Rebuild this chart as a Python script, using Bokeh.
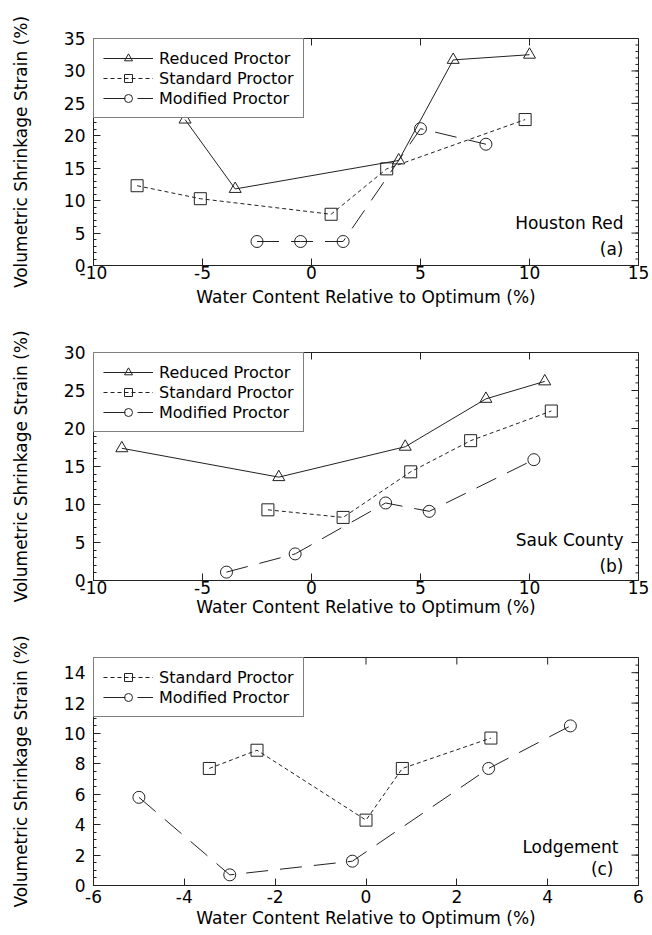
from bokeh.plotting import figure
from bokeh.layouts import column
from bokeh.models import Label, FixedTicker
from bokeh.embed import file_html
from bokeh.resources import INLINE

# ---------------- data ----------------
# (a) Houston Red
a_red_x = [-5.8, -3.5, 4.0, 6.5, 10.0]
a_red_y = [22.5, 11.8, 16.2, 31.7, 32.5]
a_std_x = [-8.0, -5.1, 0.9, 3.45, 9.8]
a_std_y = [12.3, 10.3, 7.9, 14.9, 22.5]
a_mod_x = [-2.5, -0.5, 1.45, 5.0, 8.0]
a_mod_y = [3.7, 3.7, 3.7, 21.1, 18.7]

# (b) Sauk County
b_red_x = [-8.7, -1.5, 4.3, 8.0, 10.7]
b_red_y = [17.4, 13.6, 17.6, 23.9, 26.2]
b_std_x = [-2.0, 1.45, 4.55, 7.3, 11.0]
b_std_y = [9.3, 8.3, 14.3, 18.4, 22.3]
b_mod_x = [-3.9, -0.75, 3.4, 5.4, 10.2]
b_mod_y = [1.1, 3.5, 10.2, 9.1, 15.9]

# (c) Lodgement
c_std_x = [-3.45, -2.4, 0.0, 0.8, 2.75]
c_std_y = [7.7, 8.9, 4.3, 7.7, 9.7]
c_mod_x = [-5.0, -3.0, -0.3, 2.7, 4.5]
c_mod_y = [5.8, 0.7, 1.6, 7.7, 10.5]

x_ticks_ab = [-10, -5, 0, 5, 10, 15]
x_ticks_c = [-6, -4, -2, 0, 2, 4, 6]
y_ticks_a = [0, 5, 10, 15, 20, 25, 30, 35]
y_ticks_b = [0, 5, 10, 15, 20, 25, 30]
y_ticks_c = [0, 2, 4, 6, 8, 10, 12, 14]

X_TITLE = "Water Content Relative to Optimum (%)"
Y_TITLE = "Volumetric Shrinkage Strain (%)"

FONT = "DejaVu Sans"
INK = "#222222"
FIG_W = 652
BL, BR = 93, 14
FRAME_W = FIG_W - BL - BR
MAJ, MIN = 7, 3


def minor_list(ticks, step, lo, hi):
    if step is None:
        return []
    n = int(round((hi - lo) / step))
    return [lo + i * step for i in range(n + 1)]


def style_axis(ax, ticks, minors):
    ax.ticker = FixedTicker(ticks=ticks, minor_ticks=minors)
    ax.major_label_overrides = {t: str(t) for t in ticks}
    ax.major_tick_in = MAJ
    ax.major_tick_out = 0
    ax.minor_tick_in = MIN
    ax.minor_tick_out = 0
    ax.axis_line_color = INK
    ax.major_tick_line_color = INK
    ax.minor_tick_line_color = INK
    ax.major_label_text_font = FONT
    ax.major_label_text_color = "black"
    ax.major_label_text_font_size = "17px"
    ax.axis_label_text_font = FONT
    ax.axis_label_text_font_style = "normal"
    ax.axis_label_text_color = "black"
    ax.axis_label_text_font_size = "17px"


def make_panel(height, top, bottom, xr, yr, xt, yt, y_minor, series, name, tag,
               x_std, x_lab):
    frame_h = height - top - bottom
    p = figure(width=FIG_W, height=height, x_range=xr, y_range=yr,
               output_backend="svg", toolbar_location=None,
               min_border_left=BL, min_border_right=BR,
               min_border_top=top, min_border_bottom=bottom)
    p.grid.visible = False
    p.outline_line_color = INK
    p.background_fill_color = "white"
    p.border_fill_color = "white"

    yminors = minor_list(yt, y_minor, yr[0], yr[1])
    style_axis(p.xaxis[0], xt, [])
    style_axis(p.yaxis[0], yt, yminors)
    p.xaxis[0].axis_label = X_TITLE
    p.yaxis[0].axis_label = Y_TITLE
    p.xaxis[0].major_label_standoff = x_std
    p.xaxis[0].axis_label_standoff = x_lab
    p.yaxis[0].major_label_standoff = 8
    p.yaxis[0].axis_label_standoff = 30

    # inward ticks on the top and right edges of the frame
    dy_maj = MAJ * (yr[1] - yr[0]) / frame_h
    dx_maj = MAJ * (xr[1] - xr[0]) / FRAME_W
    dx_min = MIN * (xr[1] - xr[0]) / FRAME_W
    p.segment(x0=xt, y0=[yr[1]] * len(xt), x1=xt, y1=[yr[1] - dy_maj] * len(xt),
              line_color=INK, line_width=1)
    p.segment(x0=[xr[1]] * len(yt), y0=yt, x1=[xr[1] - dx_maj] * len(yt), y1=yt,
              line_color=INK, line_width=1)
    p.segment(x0=[xr[1]] * len(yminors), y0=yminors,
              x1=[xr[1] - dx_min] * len(yminors), y1=yminors,
              line_color=INK, line_width=1)

    for label, xs, ys, marker, dash in series:
        p.line(xs, ys, line_color=INK, line_width=1, line_dash=dash,
               legend_label=label)
        p.scatter(xs, ys, marker=marker, size=12, line_color=INK,
                  line_width=1, fill_color=None, legend_label=label)

    lg = p.legend[0]
    lg.location = "top_left"
    lg.margin = 0
    lg.padding = 9
    lg.spacing = 0
    lg.label_height = 20
    lg.glyph_height = 20
    lg.glyph_width = 50
    lg.label_standoff = 6
    lg.label_text_font = FONT
    lg.label_text_font_size = "16px"
    lg.label_text_color = "black"
    lg.border_line_color = "black"
    lg.border_line_width = 1
    lg.background_fill_color = "white"
    lg.background_fill_alpha = 1.0

    for txt, sx, sy in (name, tag):
        p.add_layout(Label(x=sx, y=sy, x_units="screen", y_units="screen",
                           text=txt, text_align="right", text_baseline="middle",
                           text_font=FONT, text_font_size="17px",
                           text_color="black"))
    return p


RED = "Reduced Proctor"
STD = "Standard Proctor"
MOD = "Modified Proctor"
DASH_STD = "4 3"
DASH_MOD = "22 12"

pa = make_panel(310, 38, 45, (-10, 15), (0, 35), x_ticks_ab, y_ticks_a, 1,
                [(RED, a_red_x, a_red_y, "triangle", "solid"),
                 (STD, a_std_x, a_std_y, "square", DASH_STD),
                 (MOD, a_mod_x, a_mod_y, "circle", DASH_MOD)],
                ("Houston Red", 530, 43), ("(a)", 530, 17), x_std=0, x_lab=5)

pb = make_panel(310, 42, 40, (-10, 15), (0, 30), x_ticks_ab, y_ticks_b, 1,
                [(RED, b_red_x, b_red_y, "triangle", "solid"),
                 (STD, b_std_x, b_std_y, "square", DASH_STD),
                 (MOD, b_mod_x, b_mod_y, "circle", DASH_MOD)],
                ("Sauk County", 530, 41), ("(b)", 530, 15), x_std=0, x_lab=0)

pc = make_panel(312, 37, 47, (-6, 6), (0, 15), x_ticks_c, y_ticks_c, 0.5,
                [(STD, c_std_x, c_std_y, "square", DASH_STD),
                 (MOD, c_mod_x, c_mod_y, "circle", DASH_MOD)],
                ("Lodgement", 525, 39), ("(c)", 520, 17), x_std=4, x_lab=2)

layout = column(pa, pb, pc, spacing=0)

with open("out.html", "w") as f:
    f.write(file_html(layout, INLINE))
